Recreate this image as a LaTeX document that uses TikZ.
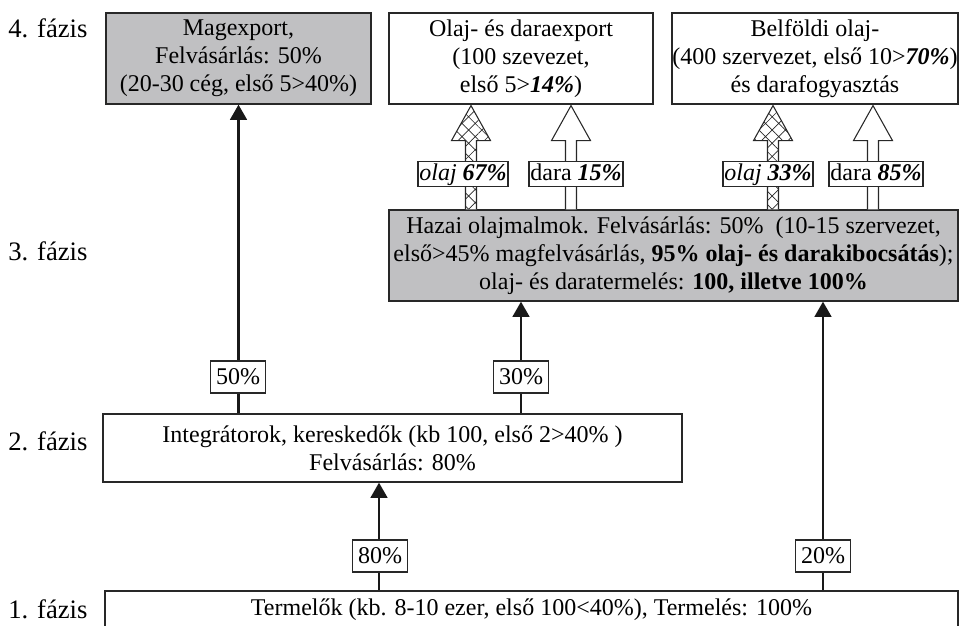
\documentclass[tikz,border=0pt]{standalone}
\usepackage{fontspec}
\setmainfont{Liberation Serif}
\usetikzlibrary{arrows.meta,calc,patterns.meta}
\definecolor{boxgrey}{RGB}{192,192,194}
\definecolor{inkline}{RGB}{40,40,40}

% hollow upward arrow standing on #2 and pointing into #3 at the x of coordinate #1;
% #4 is the style used to fill the arrow body
\newcommand\hollowup[4]{%
  \path[#4] ($(#1 |- #2.north)+(-5.5,0)$) -- ($(#1 |- #3.south)+(-5.5,36)$)
    -- ($(#1 |- #3.south)+(-19.5,36)$) -- ($(#1 |- #3.south)+(0,1)$)
    -- ($(#1 |- #3.south)+(19.5,36)$) -- ($(#1 |- #3.south)+(5.5,36)$)
    -- ($(#1 |- #2.north)+(5.5,0)$) -- cycle;
  \draw[hollow] ($(#1 |- #2.north)+(-5.5,0)$) -- ($(#1 |- #3.south)+(-5.5,36)$)
    -- ($(#1 |- #3.south)+(-19.5,36)$) -- ($(#1 |- #3.south)+(0,1)$)
    -- ($(#1 |- #3.south)+(19.5,36)$) -- ($(#1 |- #3.south)+(5.5,36)$)
    -- ($(#1 |- #2.north)+(5.5,0)$);
}

\begin{document}
\begin{tikzpicture}[x=0.75pt,y=-0.75pt,
  every node/.style={font=\fontsize{18}{21}\selectfont},
  box/.style={draw=inkline, line width=0.9pt, align=center, inner sep=0pt},
  greybox/.style={box, fill=boxgrey},
  flow/.style={line width=2.1pt, draw=black!90, -{Triangle[width=12.5pt,length=11.5pt]}},
  share/.style={draw=inkline, line width=0.8pt, fill=white, inner xsep=4pt, inner ysep=5pt,
    text height=12.5pt, text depth=1.5pt},
  tag/.style={draw=inkline, line width=0.8pt, fill=white, inner xsep=1pt, inner ysep=0.6pt,
    text height=13pt, text depth=4pt},
  phase/.style={anchor=west, inner sep=0pt, font=\fontsize{20}{24}\selectfont},
  hollow/.style={draw=inkline, line width=0.8pt, line join=miter},
  hatched/.style={fill=white, postaction={pattern={Hatch[angle=45,distance=7pt,line width=0.5pt]}, pattern color=inkline}},
  blank/.style={fill=white},
]
\useasboundingbox (0,0) rectangle (964,625);
\clip (0,0) rectangle (964,625);

% phase labels
\node[phase] (p4) at (8,28)  {4. fázis};
\node[phase] (p3) at (8,251) {3. fázis};
\node[phase] (p2) at (8,441) {2. fázis};
\node[phase] (p1) at (8,609) {1. fázis};

% phase 4
\node[greybox, minimum width=198.75pt, minimum height=68.25pt] (mag) at (238.5,58.5)
  {Magexport,\\Felvásárlás: 50\%\\(20-30 cég, első 5>40\%)};
\node[box, minimum width=198pt, minimum height=68.25pt] (olex) at (521,58.5)
  {Olaj- és daraexport\\(100 szevezet,\\első 5>\textbf{\textit{14\%}})};
\node[box, minimum width=214.5pt, minimum height=68.25pt] (belf) at (815,58.5)
  {Belföldi olaj-\\(400 szervezet, első 10>\textbf{\textit{70\%}})\\és darafogyasztás};

% phase 3
\node[greybox, minimum width=426.75pt, minimum height=68.25pt] (hazai) at (673.5,255.5)
  {Hazai olajmalmok. Felvásárlás: 50\%\ \ (10-15 szervezet,\\
   első>45\% magfelvásárlás, \textbf{95\% olaj- és darakibocsátás});\\
   olaj- és daratermelés: \textbf{100, illetve 100\%}};

% phase 2
\node[box, minimum width=434.25pt, minimum height=51pt] (integ) at (392.5,448)
  {Integrátorok, kereskedők (kb 100, első 2>40\% )\\Felvásárlás: 80\%};

% phase 1
\node[box, minimum width=639.75pt, minimum height=28.5pt] (term) at (531.5,610)
  {Termelők (kb. 8-10 ezer, első 100<40\%), Termelés: 100\%};

% flows between phases
\coordinate (xin)  at (379,0);
\coordinate (xdom) at (823,0);
\draw[flow] (mag.south |- integ.north) -- (mag.south);
\draw[flow] (olex.south |- integ.north) -- (olex.south |- hazai.south);
\draw[flow] (xin |- term.north) -- (xin |- integ.south);
\draw[flow] (xdom |- term.north) -- (xdom |- hazai.south);

\node[share] (s50) at (238,377) {50\%};
\node[share] (s30) at (521,377) {30\%};
\node[share] (s80) at (380,556) {80\%};
\node[share] (s20) at (823,556) {20\%};

% oil and meal outputs of the crushers
\coordinate (oilA)  at (471,0);
\coordinate (mealA) at (571,0);
\coordinate (oilB)  at (773,0);
\coordinate (mealB) at (873,0);
\hollowup{oilA}{hazai}{olex}{hatched}
\hollowup{mealA}{hazai}{olex}{blank}
\hollowup{oilB}{hazai}{belf}{hatched}
\hollowup{mealB}{hazai}{belf}{blank}

\node[tag] (o67) at (463,174) {\textit{olaj} \textbf{\textit{67\%}}};
\node[tag] (d15) at (576,174) {dara \textbf{\textit{15\%}}};
\node[tag] (o33) at (768,174) {\textit{olaj} \textbf{\textit{33\%}}};
\node[tag] (d85) at (876,174) {dara \textbf{\textit{85\%}}};
\end{tikzpicture}
\end{document}
